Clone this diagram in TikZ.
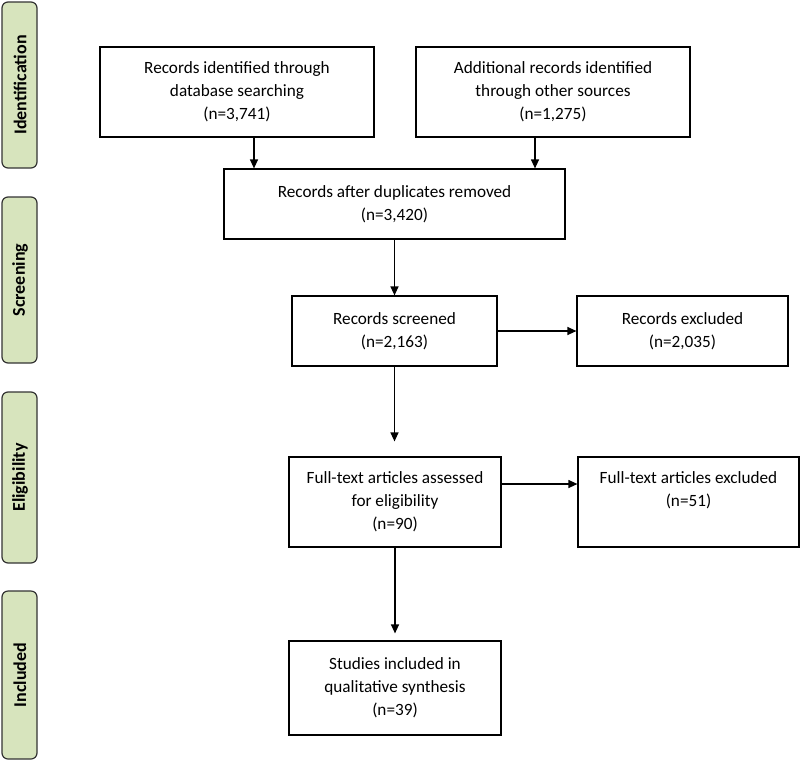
\documentclass[tikz,border=0pt]{standalone}
\usepackage{fontspec}
\setmainfont{Carlito}
\usetikzlibrary{arrows.meta}
\definecolor{phasegreen}{HTML}{D7E4BD}
\tikzset{
  flowbox/.style={draw, line width=1.2pt, align=center, inner sep=0pt, font=\fontsize{17.2}{22.8}\selectfont},
  phasebar/.style={draw=black!80, fill=phasegreen, rounded corners=6pt, line width=1.2pt},
  phasetext/.style={rotate=90, font=\fontsize{18}{20}\selectfont\bfseries},
  flowarrow/.style={-{Triangle[length=9pt,width=8pt]}, line width=1.2pt}
}

\begin{document}
\begin{tikzpicture}[x=1pt,y=-1pt]
    \useasboundingbox (0,0) rectangle (800,761);

    % Draw the phase bars on the left
    \foreach \Name/\Top/\Bottom/\PhaseLabel in {ident/2/168/Identification, screen/197/363/Screening, elig/392/563/Eligibility, incl/591/759/Included}
    {
      \draw[phasebar] (2,\Top) rectangle (37,\Bottom);
      \node[phasetext] (\Name) at (20,{(\Top+\Bottom)/2}) {\PhaseLabel};
    }

    % Identification
    \node[flowbox, minimum width=274pt, minimum height=90pt] (dbsearch) at (237,92) {Records identified through\\database searching\\(n=3,741)};
    \node[flowbox, minimum width=274pt, minimum height=90pt] (othersrc) at (553,92) {Additional records identified\\through other sources\\(n=1,275)};
    \node[flowbox, minimum width=341pt, minimum height=70pt] (dedup) at (394.5,204) {Records after duplicates removed\\(n=3,420)};

    % Screening
    \node[flowbox, minimum width=205pt, minimum height=70pt] (screened) at (394.5,331) {Records screened\\(n=2,163)};
    \node[flowbox, minimum width=211pt, minimum height=70pt] (excluded) at (682.5,331) {Records excluded\\(n=2,035)};

    % Eligibility
    \node[flowbox, minimum width=212pt, minimum height=90pt] (fulltext) at (395,502) {Full-text articles assessed\\for eligibility\\(n=90)};
    \node[flowbox, minimum width=221pt, minimum height=90pt] (ftexcl) at (688.5,502) {Full-text articles excluded\\(n=51)\\\phantom{(n=51)}};

    % Included
    \node[flowbox, minimum width=212pt, minimum height=94pt] (included) at (395,688) {Studies included in\\qualitative synthesis\\(n=39)};

    % Connect the boxes
    \draw[flowarrow] ([xshift=17pt]dbsearch.south) -- ([xshift=17pt]dbsearch.south |- dedup.north);
    \draw[flowarrow] ([xshift=-18pt]othersrc.south) -- ([xshift=-18pt]othersrc.south |- dedup.north);
    \draw[flowarrow] (dedup.south) -- (dedup.south |- screened.north);
    \draw[flowarrow] (screened.east) -- (excluded.west);
    \draw[flowarrow, shorten >=15pt] (screened.south) -- (screened.south |- fulltext.north);
    \draw[flowarrow] ([yshift=18pt]fulltext.east) -- ([yshift=18pt]fulltext.east -| ftexcl.west);
    \draw[flowarrow, shorten >=7pt] (fulltext.south) -- (fulltext.south |- included.north);

\end{tikzpicture}
\end{document}
